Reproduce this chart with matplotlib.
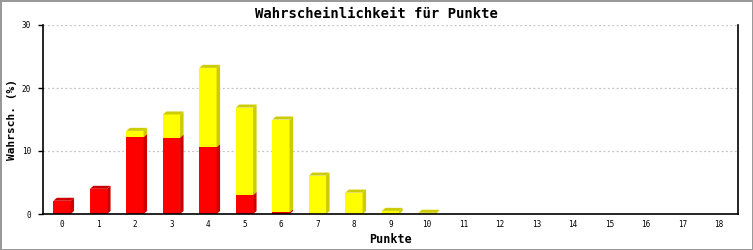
import numpy as np
import matplotlib
matplotlib.use("Agg")
import matplotlib.pyplot as plt

## Daten
punkte = list(range(19))
rot = [2.1, 4.0, 12.2, 12.1, 10.6, 3.0, 0.25, 0, 0, 0, 0, 0, 0, 0, 0, 0, 0, 0, 0]
gelb = [0, 0, 1.0, 3.7, 12.6, 13.9, 14.75, 6.1, 3.4, 0.5, 0.2, 0, 0, 0, 0, 0, 0, 0, 0]

mono = "DejaVu Sans Mono"

fig = plt.figure(figsize=(7.53, 2.5), dpi=100, facecolor="white",
                 edgecolor="#999999", linewidth=2)
ax = fig.add_axes([43/753, 36/250, 695/753, 189/250])

xmin, xmax = -0.52, 18.52
ymin, ymax = 0, 30
ax.set_xlim(xmin, xmax)
ax.set_ylim(ymin, ymax)

# 3D-Versatz in Pixel -> Dateneinheiten
px_x = 695 / (xmax - xmin)
px_y = 189 / (ymax - ymin)
dx = 3.5 / px_x
dy = 3.0 / px_y
breite = 0.47

def saeule(x, unten, hoehe, front, seite):
    if hoehe <= 0:
        return
    x0, x1 = x - breite/2, x + breite/2
    oben = unten + hoehe
    ax.bar(x, hoehe, bottom=unten, width=breite, color=front, zorder=3, linewidth=0)
    ax.fill([x1, x1+dx, x1+dx, x1], [unten, unten+dy, oben+dy, oben],
            color=seite, zorder=3, linewidth=0)
    ax.fill([x0, x0+dx, x1+dx, x1], [oben, oben+dy, oben+dy, oben],
            color=seite, zorder=3, linewidth=0)

for i, p in enumerate(punkte):
    saeule(p, 0, rot[i], "#FF0000", "#CC0000")
    saeule(p, rot[i], gelb[i], "#FFFF00", "#CCCC00")

ax.set_yticks([0, 10, 20, 30])
ax.set_xticks(punkte)
ax.set_xticklabels([str(p) for p in punkte])
for y in [10, 20, 30]:
    ax.axhline(y, color="#C4C4C4", linewidth=0.9, dashes=(1.5, 2), zorder=1)

ax.spines["top"].set_visible(False)
for s in ["left", "bottom", "right"]:
    ax.spines[s].set_linewidth(1.2)
    ax.spines[s].set_zorder(4)
ax.tick_params(axis="y", length=3.6, width=1, pad=5, labelsize=5.5, direction="out")
ax.tick_params(axis="x", length=0, pad=4, labelsize=5.5)
for lab in ax.get_xticklabels() + ax.get_yticklabels():
    lab.set_family(mono)

ax.set_ylabel("Wahrsch. (%)", family=mono, fontweight="bold", fontsize=8)
ax.yaxis.set_label_coords(-0.037, 0.5)
ax.set_xlabel("Punkte", family=mono, fontweight="bold", fontsize=8.5, labelpad=3)
fig.suptitle("Wahrscheinlichkeit für Punkte", family=mono, fontweight="bold",
             fontsize=10, y=0.972)

fig.savefig("out.png", dpi=100, facecolor="white", edgecolor="#999999")
